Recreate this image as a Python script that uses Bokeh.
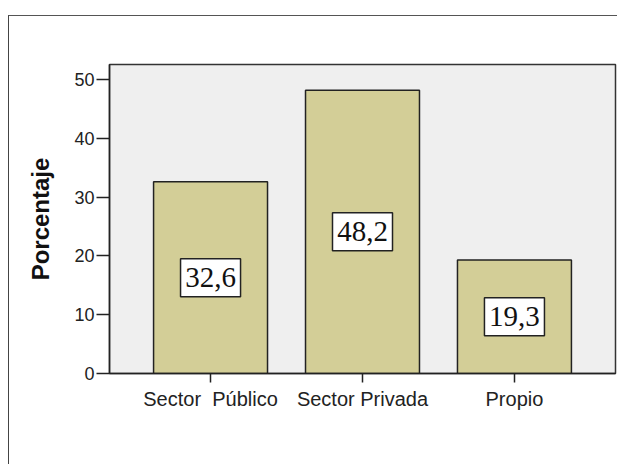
from bokeh.plotting import figure
from bokeh.models import FactorRange, Range1d, ColumnDataSource, FixedTicker
from bokeh.embed import file_html
from bokeh.resources import INLINE
from bokeh.core.properties import value

categories = ["Sector \u00a0Público", "Sector Privada", "Propio"]
percentages = [32.6, 48.2, 19.3]
label_texts = ["32,6", "48,2", "19,3"]
y_ticks = [0, 10, 20, 30, 40, 50]

source = ColumnDataSource(dict(
    cat=categories,
    pct=percentages,
    mid=[v / 2 for v in percentages],
    txt=label_texts,
))

p = figure(
    x_range=FactorRange(factors=categories, range_padding=0.11),
    y_range=Range1d(0, 52.56),
    width=609, height=449,
    output_backend="svg", toolbar_location=None,
    min_border_left=100, min_border_right=3,
    min_border_top=48, min_border_bottom=92,
)
p.styles = {"margin-top": "15px", "margin-left": "8px",
            "border-top": "1.5px solid #555", "border-left": "1.5px solid #444"}

p.background_fill_color = "#efefef"
p.border_fill_color = "white"
p.outline_line_color = "#333333"
p.outline_line_width = 1.5
p.xgrid.visible = False
p.ygrid.visible = False

p.vbar(x="cat", top="pct", width=0.75, source=source,
       fill_color="#d3ce97", line_color="#222222", line_width=1.5)

p.rect(x="cat", y="mid", width=60, height=38, width_units="screen", height_units="screen",
       source=source, fill_color="white", line_color="#222222", line_width=1.5)
p.text(x="cat", y="mid", text="txt", source=source,
       text_align="center", text_baseline="middle",
       text_font=value("Liberation Serif"), text_font_size="29px",
       text_color="#111111")

p.yaxis.ticker = FixedTicker(ticks=y_ticks)
p.yaxis.axis_label = "Porcentaje"
p.yaxis.axis_label_text_font = "Liberation Sans"
p.yaxis.axis_label_text_font_style = "bold"
p.yaxis.axis_label_text_font_size = "24px"
p.yaxis.axis_label_text_color = "#111111"
p.yaxis.axis_label_standoff = 17
p.yaxis.major_label_text_font = "Liberation Sans"
p.yaxis.major_label_text_font_size = "18px"
p.yaxis.major_label_text_color = "#222222"
p.yaxis.major_label_standoff = 2
p.yaxis.major_tick_out = 13
p.yaxis.major_tick_in = 0
p.yaxis.minor_tick_line_color = None
p.yaxis.axis_line_color = "#222222"
p.yaxis.axis_line_width = 1.5
p.yaxis.major_tick_line_color = "#222222"
p.yaxis.major_tick_line_width = 1.5

p.xaxis.major_label_text_font = "Liberation Sans"
p.xaxis.major_label_text_font_size = "20px"
p.xaxis.major_label_text_color = "#222222"
p.xaxis.major_label_standoff = 5
p.xaxis.major_tick_out = 9
p.xaxis.major_tick_in = 0
p.xaxis.axis_line_color = "#222222"
p.xaxis.axis_line_width = 1.5
p.xaxis.major_tick_line_color = "#222222"
p.xaxis.major_tick_line_width = 1.5

open("out.html", "w").write(file_html(p, INLINE))
